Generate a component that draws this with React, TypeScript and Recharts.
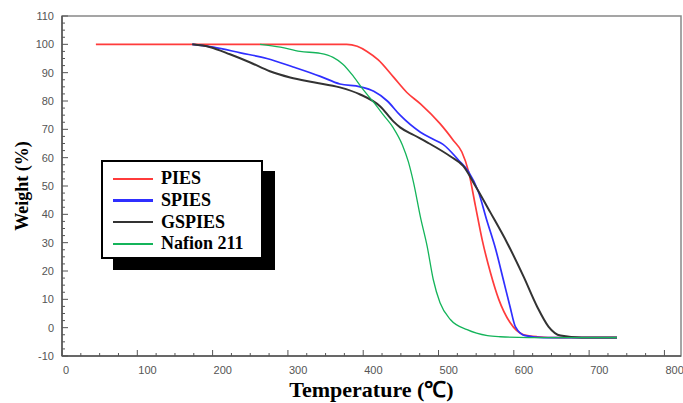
import { LineChart, Line, XAxis, YAxis, ReferenceArea, Legend } from "recharts";

// thermogravimetric curves (temperature in °C, weight in %)
const piesTemp = [45, 100, 200, 300, 378, 392, 405, 420, 440, 458, 476, 502, 520, 531, 540, 549, 558, 569, 580, 595, 613, 631, 660, 737];
const piesWeight = [100, 100, 100, 100, 100, 99.3, 97.5, 94.5, 88.5, 83, 79, 72, 66, 62, 55, 43, 31, 19.4, 10, 1.8, -2.5, -3.2, -3.5, -3.5];

const spiesTemp = [173, 201, 237, 272, 307, 343, 369, 396, 414, 432, 449, 476, 493, 506, 527, 540, 553, 564, 576, 586, 595, 602, 615, 640, 737];
const spiesWeight = [100, 99, 97, 95, 92, 88.7, 86, 85, 83.4, 80, 75, 69, 66.5, 64.7, 59, 55, 48, 38, 27.6, 17, 7.4, 0.4, -2.8, -3.5, -3.5];

const gspiesTemp = [173, 197, 223, 250, 276, 303, 334, 369, 396, 423, 440, 449, 467, 485, 516, 533, 549, 569, 591, 613, 631, 646, 662, 690, 737];
const gspiesWeight = [100, 99, 96.5, 93.6, 90.5, 88.3, 86.6, 84.8, 82.3, 78, 72.8, 70.7, 68, 65.4, 60.4, 57, 50, 40.6, 30, 18, 7.4, 0.4, -2.8, -3.5, -3.5];

const nafionTemp = [263, 290, 316, 343, 360, 373, 387, 400, 414, 427, 440, 452, 460, 467, 476, 485, 493, 502, 516, 538, 565, 582, 620, 737];
const nafionWeight = [100, 99, 97.5, 96.8, 95.4, 93, 88.7, 84, 79.5, 75, 70.5, 64.5, 58.5, 51, 39, 28.6, 17, 8.8, 2.8, -0.7, -2.8, -3.2, -3.5, -3.5];

const xMajorTicks = [0, 100, 200, 300, 400, 500, 600, 700, 800];
const yMajorTicks = [-10, 0, 10, 20, 30, 40, 50, 60, 70, 80, 90, 100, 110];

const series = [
  { name: "PIES", temp: piesTemp, weight: piesWeight, color: "#ff3b3b", width: 1.7 },
  { name: "SPIES", temp: spiesTemp, weight: spiesWeight, color: "#2f2fff", width: 1.7 },
  { name: "GSPIES", temp: gspiesTemp, weight: gspiesWeight, color: "#333333", width: 2 },
  { name: "Nafion 211", temp: nafionTemp, weight: nafionWeight, color: "#14b45a", width: 1.3 },
];

const zip = (t: number[], w: number[]) => t.map((x, i) => ({ temp: x, weight: w[i] }));

// minor ticks between the labelled ones
const withMinor = (major: number[], parts: number) => {
  const out: number[] = [];
  for (let i = 0; i < major.length - 1; i++) {
    const step = (major[i + 1] - major[i]) / parts;
    for (let k = 0; k < parts; k++) out.push(major[i] + k * step);
  }
  out.push(major[major.length - 1]);
  return out;
};

const tickFont = { fontFamily: "'Liberation Sans', Arial, sans-serif", fontSize: 11, fill: "#555" };
const serifBold = "'Liberation Serif', 'Times New Roman', serif";

const XTick = (props: any) => {
  const { x, y, payload } = props;
  const major = xMajorTicks.includes(payload.value);
  return (
    <g>
      <line x1={x} y1={y} x2={x} y2={y - (major ? 6 : 3)} stroke="#555" />
      {major && (
        <text x={x + 1} y={y + 18} textAnchor="start" {...tickFont}>
          {payload.value}
        </text>
      )}
    </g>
  );
};

const YTick = (props: any) => {
  const { x, y, payload } = props;
  const major = yMajorTicks.includes(payload.value);
  return (
    <g>
      <line x1={x} y1={y} x2={x + (major ? 6 : 3)} y2={y} stroke="#555" />
      {major && (
        <text x={x - 8} y={y + 4} textAnchor="end" {...tickFont}>
          {payload.value}
        </text>
      )}
    </g>
  );
};

const renderLegend = () => (
  <div
    style={{
      width: 162,
      height: 99,
      boxSizing: "border-box",
      border: "2px solid #000",
      background: "#fff",
      boxShadow: "12px 11px 0 #000",
      paddingTop: 6,
      paddingLeft: 10,
    }}
  >
    {series.map((s) => (
      <div key={s.name} style={{ display: "flex", alignItems: "center", height: 21.7 }}>
        <div style={{ width: 40, height: 2.5, background: s.color, marginRight: 8 }} />
        <span style={{ fontFamily: serifBold, fontWeight: "bold", fontSize: 18, color: "#000", lineHeight: "21px" }}>
          {s.name}
        </span>
      </div>
    ))}
  </div>
);

export default function App() {
  return (
    <div style={{ width: 683, height: 403, position: "relative", background: "#fff" }}>
      <style>{"body{margin:0}"}</style>
      <LineChart width={683} height={403} margin={{ top: 16, right: 2, bottom: 0, left: 0 }}>
        <XAxis
          type="number"
          dataKey="temp"
          domain={[0, 822]}
          ticks={withMinor(xMajorTicks, 4)}
          interval={0}
          tickSize={0}
          tickMargin={0}
          tickLine={false}
          tick={<XTick />}
          axisLine={{ stroke: "#555", strokeWidth: 1.5 }}
          height={47}
          allowDataOverflow
          label={{
            value: "Temperature (℃)",
            position: "insideBottom",
            offset: 6,
            style: { fontFamily: serifBold, fontWeight: "bold", fontSize: 22, fill: "#000" },
          }}
        />
        <YAxis
          type="number"
          dataKey="weight"
          domain={[-10, 110]}
          ticks={withMinor(yMajorTicks, 4)}
          interval={0}
          tickSize={0}
          tickMargin={0}
          tickLine={false}
          tick={<YTick />}
          axisLine={{ stroke: "#555", strokeWidth: 1.5 }}
          width={62}
          allowDataOverflow
          label={{
            value: "Weight (%)",
            angle: -90,
            position: "insideLeft",
            offset: 22,
            style: { fontFamily: serifBold, fontWeight: "bold", fontSize: 18, fill: "#000", textAnchor: "middle" },
          }}
        />
        <ReferenceArea x1={0} x2={822} y1={-10} y2={110} fill="none" stroke="#888" strokeWidth={1.5} />
        {series.map((s) => (
          <Line
            key={s.name}
            name={s.name}
            data={zip(s.temp, s.weight)}
            dataKey="weight"
            type="monotone"
            stroke={s.color}
            strokeWidth={s.width}
            dot={false}
            activeDot={false}
            isAnimationActive={false}
          />
        ))}
        <Legend
          layout="vertical"
          align="center"
          verticalAlign="middle"
          content={renderLegend}
          wrapperStyle={{ left: 101, top: 160, width: 162, height: 99 }}
        />
      </LineChart>
    </div>
  );
}
